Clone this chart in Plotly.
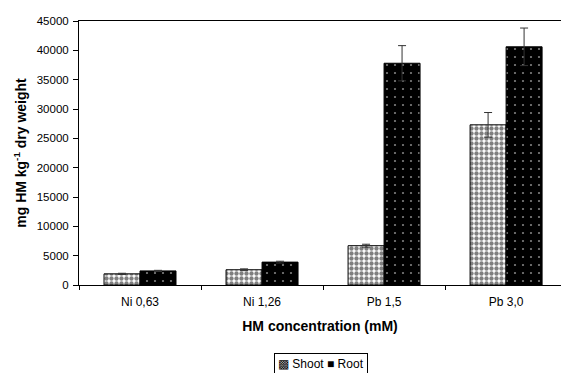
import plotly.graph_objects as go

categories = ["Ni 0,63", "Ni 1,26", "Pb 1,5", "Pb 3,0"]
shoot = [1900, 2600, 6700, 27300]
shoot_err = [100, 150, 250, 2100]
root = [2400, 3900, 37800, 40600]
root_err = [100, 150, 3000, 3200]

fig = go.Figure()
fig.add_trace(go.Bar(
    name="Shoot", x=categories, y=shoot, showlegend=False,
    error_y=dict(type="data", array=shoot_err, color="#333333", thickness=1, width=4),
    marker=dict(color="white", line=dict(color="black", width=1),
                pattern=dict(shape=".", fgcolor="black", bgcolor="white", size=5, solidity=0.6)),
))
fig.add_trace(go.Bar(
    name="Root", x=categories, y=root, showlegend=False,
    error_y=dict(type="data", array=root_err, color="#333333", thickness=1, width=4),
    marker=dict(color="black", line=dict(color="black", width=1),
                pattern=dict(shape=".", fgcolor="white", bgcolor="black", size=8, solidity=0.06)),
))

fig.add_annotation(
    xref="paper", yref="paper", x=0.503, y=-0.3, xanchor="center", yanchor="middle",
    showarrow=False, bordercolor="black", borderwidth=1, borderpad=3, bgcolor="white",
    text="<span style='font-size:12px'>▩</span> Shoot <span style='font-size:12px'>■</span> Root",
    font=dict(size=12, color="black"),
)

fig.update_layout(
    width=562, height=373,
    margin=dict(l=79, r=1, t=21, b=88),
    paper_bgcolor="white", plot_bgcolor="white",
    font=dict(family="Liberation Sans, Arial", size=12, color="black"),
    barmode="group", bargap=0.41, bargroupgap=0,
    xaxis=dict(range=[-0.5, 3.45], showline=True, linecolor="black", linewidth=1,
               mirror=True, ticks="outside", tickson="boundaries", ticklen=4,
               tickcolor="black", showgrid=False, automargin=False,
               tickfont=dict(size=12), ticklabelstandoff=6,
               title=dict(text="<b>HM concentration (mM)</b>", font=dict(size=14), standoff=12)),
    yaxis=dict(range=[0, 45000], dtick=5000, tickformat="d", showline=True, linecolor="black",
               linewidth=1, ticks="outside", ticklen=5, tickcolor="black", showgrid=False,
               zeroline=False, automargin=False, tickfont=dict(size=11.5), ticklabelstandoff=2,
               title=dict(text="<b>mg HM kg<sup>-1</sup> dry weight</b>", font=dict(size=14), standoff=6)),
)

fig.write_html("out.html", config={"displayModeBar": False},
               post_script="document.body.style.margin='0';document.body.style.overflow='hidden';")
